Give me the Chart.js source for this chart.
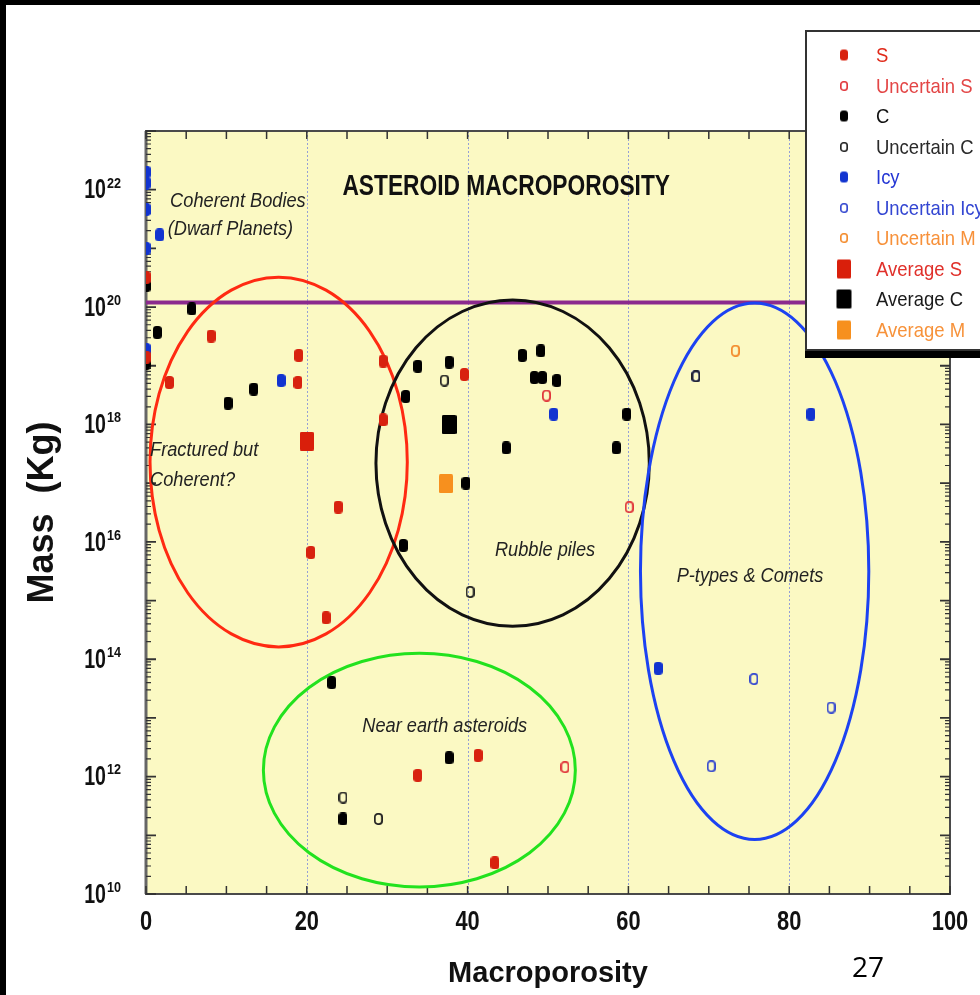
<!DOCTYPE html>
<html>
<head>
<meta charset="utf-8">
<script src="https://cdn.jsdelivr.net/npm/chart.js@4.4.1/dist/chart.umd.min.js"></script>
<style>
  body { margin: 0; background: #fff; width: 980px; height: 995px; overflow: hidden; position: relative; }
  #wrap { position: absolute; left: 0; top: 0; width: 980px; height: 995px; }
  .bar { position: absolute; background: #000; z-index: 5; }
  #legend {
    position: absolute; left: 805px; top: 30px; width: 200px; height: 321px;
    background: #fff; border: 2px solid #333; box-shadow: 0 7px 0 #000;
    z-index: 4; padding-top: 8px; box-sizing: border-box;
    font-family: 'Liberation Sans', Arial, sans-serif; font-size: 21px;
  }
  .row { height: 30.5px; position: relative; }
  .row span.mk { position: absolute; left: 37px; top: 50%; transform: translate(-50%, -50%); }
  .row span.tx { position: absolute; left: 69px; top: 50%; transform: translateY(-52%) scaleX(0.88); transform-origin: left center; white-space: nowrap; }
  #page { position: absolute; left: 852px; top: 947px; font: 28px 'Open Sans', sans-serif; color: #000; z-index: 4; }
</style>
</head>
<body>
<div id="wrap"><canvas id="massChart" width="980" height="995"></canvas></div>
<div class="bar" style="left:0;top:0;width:980px;height:5px"></div>
<div class="bar" style="left:0;top:0;width:6px;height:995px"></div>
<div id="legend"></div>
<div id="page">27</div>
<script>
// Asteroid mass vs macroporosity

// S type
var sX = [0, 0, 8.1, 19.0, 2.9, 18.9, 29.5, 29.5, 39.6, 23.9, 20.5, 22.4, 41.3, 33.8, 43.4];
var sY = [3.2e20, 1.4e19, 3.2e19, 1.5e19, 5.2e18, 5.2e18, 1.2e19, 1.2e18, 7.1e18, 3.9e16, 6.6e15, 5.1e14, 2.3e12, 1.05e12, 3.4e10];
// uncertain S
var usX = [49.8, 60.1, 52.1];
var usY = [3.1e18, 3.9e16, 1.45e12];
// C type
var cX = [0, 5.7, 1.4, 0, 13.4, 10.2, 33.8, 37.7, 32.3, 46.8, 49.1, 48.3, 49.3, 51.1, 59.8, 44.8, 58.5, 39.8, 32.0, 23.1, 37.7, 24.5];
var cY = [2.3e20, 9.3e19, 3.7e19, 1.1e19, 4e18, 2.3e18, 9.8e18, 1.15e19, 3e18, 1.5e19, 1.8e19, 6.3e18, 6.3e18, 5.6e18, 1.5e18, 4e17, 4e17, 1e17, 8.7e15, 4e13, 2.1e12, 1.9e11];
// uncertain C
var ucX = [37.1, 40.3, 24.5, 28.9, 68.4];
var ucY = [5.6e18, 1.4e15, 4.4e11, 1.9e11, 6.6e18];
// icy
var iX = [0, 0, 0, 1.7, 0, 0, 16.8, 50.7, 82.7, 63.7];
var iY = [2.0e22, 1.3e22, 4.6e21, 1.7e21, 1.0e21, 1.9e19, 5.6e18, 1.5e18, 1.5e18, 7e13];
// uncertain icy
var uiX = [68.4, 75.6, 85.2, 70.3];
var uiY = [6.6e18, 4.6e13, 1.5e13, 1.5e12];
// uncertain M
var umX = [73.3];
var umY = [1.8e19];
// averages
var avgSX = [20.0], avgSY = [5.2e17];
var avgCX = [37.7], avgCY = [1e18];
var avgMX = [37.3], avgMY = [9.8e16];

var seriesNames = ["S", "Uncertain S", "C", "Uncertain C", "Icy", "Uncertain Icy", "Uncertain M", "Average S", "Average C", "Average M"];
var xTickLabels = [0, 20, 40, 60, 80, 100];
var yExponents = [10, 11, 12, 13, 14, 15, 16, 17, 18, 19, 20, 21, 22, 23];
var yLabelExponents = [10, 12, 14, 16, 18, 20, 22];
var guideX = [20, 40, 60, 80];
var cutMass = 1.2e20; // purple line

// region ellipses: centre x, half width, centre log10(mass), half height in decades
var regionCx = [16.5, 45.6, 34.0, 75.7];
var regionRx = [16.0, 17.0, 19.4, 14.2];
var regionCy = [17.36, 17.34, 12.11, 15.5];
var regionRy = [3.15, 2.78, 1.99, 4.57];
var regionColors = ["#ff2a12", "#111111", "#22e21e", "#1c42f2"];

var FONT = "'Liberation Sans', Arial, sans-serif";

function marker(w, h, fill, stroke, lw, r) {
  var c = document.createElement("canvas");
  c.width = w; c.height = h;
  var g = c.getContext("2d");
  g.beginPath();
  var o = stroke ? lw / 2 : 0;
  g.roundRect(o, o, w - 2 * o, h - 2 * o, r);
  if (fill) { g.fillStyle = fill; g.fill(); }
  if (stroke) { g.strokeStyle = stroke; g.lineWidth = lw; g.stroke(); }
  return c;
}

var styles = [
  { color: "#d8220f", text: "#e02a1a", img: marker(9, 13, "#d8220f", null, 0, 3.5) },
  { color: "#e0353a", text: "#e34646", img: marker(9, 12, null, "#e0353a", 1.8, 3) },
  { color: "#000000", text: "#111111", img: marker(9, 13, "#000", null, 0, 3.5) },
  { color: "#222222", text: "#2a2a2a", img: marker(9, 12, null, "#222", 1.8, 3) },
  { color: "#1234d0", text: "#2436d4", img: marker(9, 13, "#1234d0", null, 0, 3.5) },
  { color: "#3347cf", text: "#3346d2", img: marker(9, 12, null, "#3347cf", 1.8, 3) },
  { color: "#f38a2a", text: "#f7913a", img: marker(9, 12, null, "#f38a2a", 1.8, 3) },
  { color: "#d91f0b", text: "#e0302a", img: marker(14, 19, "#d91f0b", null, 0, 1.5) },
  { color: "#000000", text: "#1a1a1a", img: marker(15, 19, "#000", null, 0, 1.5) },
  { color: "#f7901e", text: "#f7923a", img: marker(14, 19, "#f7901e", null, 0, 1.5) }
];

var xs = [sX, usX, cX, ucX, iX, uiX, umX, avgSX, avgCX, avgMX];
var ys = [sY, usY, cY, ucY, iY, uiY, umY, avgSY, avgCY, avgMY];

function pts(ax, ay) {
  return ax.map(function (v, i) { return { x: v, y: ay[i] }; });
}

// condensed text helper (the original uses a narrow Helvetica)
function narrowText(ctx, text, px, py, font, sx, align) {
  ctx.save();
  ctx.font = font;
  ctx.translate(px, py);
  ctx.scale(sx, 1);
  ctx.textAlign = align || "left";
  ctx.fillText(text, 0, 0);
  ctx.restore();
}

// background, guides, ellipses, frame and inward ticks
var backdrop = {
  id: "backdrop",
  beforeDatasetsDraw: function (chart) {
    var ctx = chart.ctx, a = chart.chartArea, x = chart.scales.x, y = chart.scales.y;
    ctx.save();
    ctx.fillStyle = "#fbf9c3";
    ctx.fillRect(a.left, a.top, a.right - a.left, a.bottom - a.top);

    ctx.strokeStyle = "#95a0d6";
    ctx.lineWidth = 1;
    ctx.setLineDash([2, 2]);
    guideX.forEach(function (v) {
      var px = Math.round(x.getPixelForValue(v)) + 0.5;
      ctx.beginPath(); ctx.moveTo(px, a.top); ctx.lineTo(px, a.bottom); ctx.stroke();
    });
    ctx.setLineDash([]);

    // frame
    ctx.strokeStyle = "#4a4a4a";
    ctx.lineWidth = 2;
    ctx.strokeRect(a.left, a.top, a.right - a.left, a.bottom - a.top);
    ctx.strokeStyle = "#666";
    ctx.lineWidth = 3;
    ctx.beginPath(); ctx.moveTo(a.left, a.top); ctx.lineTo(a.left, a.bottom); ctx.stroke();

    // x ticks top and bottom
    ctx.strokeStyle = "#333";
    ctx.lineWidth = 1.5;
    x.ticks.forEach(function (t) {
      var px = x.getPixelForValue(t.value);
      ctx.beginPath();
      ctx.moveTo(px, a.bottom); ctx.lineTo(px, a.bottom - 8);
      ctx.moveTo(px, a.top); ctx.lineTo(px, a.top + 8);
      ctx.stroke();
    });
    // y ticks left and right, majors and minors
    yExponents.forEach(function (e) {
      var py = y.getPixelForValue(Math.pow(10, e));
      ctx.lineWidth = 1.8;
      ctx.beginPath();
      ctx.moveTo(a.left, py); ctx.lineTo(a.left + 10, py);
      ctx.moveTo(a.right, py); ctx.lineTo(a.right - 10, py);
      ctx.stroke();
      if (e >= 23) return;
      ctx.lineWidth = 1.2;
      for (var m = 2; m <= 9; m++) {
        var pm = y.getPixelForValue(m * Math.pow(10, e));
        ctx.beginPath();
        ctx.moveTo(a.left, pm); ctx.lineTo(a.left + 5, pm);
        ctx.moveTo(a.right, pm); ctx.lineTo(a.right - 5, pm);
        ctx.stroke();
      }
    });

    // purple line
    var pyc = y.getPixelForValue(cutMass);
    ctx.strokeStyle = "#8b2a8e";
    ctx.lineWidth = 4;
    ctx.beginPath(); ctx.moveTo(a.left, pyc); ctx.lineTo(a.right, pyc); ctx.stroke();

    // ellipses
    regionCx.forEach(function (cxv, i) {
      var cx = x.getPixelForValue(cxv);
      var rx = x.getPixelForValue(cxv + regionRx[i]) - cx;
      var cy = y.getPixelForValue(Math.pow(10, regionCy[i]));
      var ry = cy - y.getPixelForValue(Math.pow(10, regionCy[i] + regionRy[i]));
      ctx.strokeStyle = regionColors[i];
      ctx.lineWidth = 3;
      ctx.beginPath(); ctx.ellipse(cx, cy, rx, ry, 0, 0, 2 * Math.PI); ctx.stroke();
    });
    ctx.restore();
  },
  afterDatasetsDraw: function (chart) {
    var ctx = chart.ctx, a = chart.chartArea, x = chart.scales.x, y = chart.scales.y;
    ctx.save();
    ctx.textBaseline = "middle";
    ctx.fillStyle = "#111";
    narrowText(ctx, "ASTEROID MACROPOROSITY", x.getPixelForValue(44.8), y.getPixelForValue(Math.pow(10, 22.05)),
      "bold 29px " + FONT, 0.785, "center");
    ctx.fillStyle = "#222";
    var notes = [
      ["Coherent Bodies", 3.0, 21.8],
      ["(Dwarf Planets)", 2.7, 21.33],
      ["Fractured but", 0.5, 17.55],
      ["Coherent?", 0.5, 17.05],
      ["Rubble piles", 43.4, 15.86],
      ["Near earth asteroids", 26.9, 12.86],
      ["P-types & Comets", 66.0, 15.41]
    ];
    notes.forEach(function (n) {
      narrowText(ctx, n[0], x.getPixelForValue(n[1]), y.getPixelForValue(Math.pow(10, n[2])),
        "italic 20px " + FONT, 0.91, "left");
    });

    // tick labels, condensed like the original
    ctx.fillStyle = "#111";
    x.ticks.forEach(function (t) {
      if (xTickLabels.indexOf(t.value) < 0) return;
      narrowText(ctx, String(t.value), x.getPixelForValue(t.value), a.bottom + 28, "bold 28px " + FONT, 0.78, "center");
    });
    yLabelExponents.forEach(function (e) {
      var py = y.getPixelForValue(Math.pow(10, e));
      narrowText(ctx, "10", 106, py + 1, "bold 28px " + FONT, 0.7, "right");
      ctx.save();
      ctx.textBaseline = "top";
      narrowText(ctx, String(e), 107, py - 13, "bold 14px " + FONT, 0.9, "left");
      ctx.restore();
    });
    ctx.restore();
  }
};

var chartCtx = document.getElementById("massChart").getContext("2d");
var massChart = new Chart(chartCtx, {
  type: "scatter",
  data: {
    datasets: seriesNames.map(function (name, i) {
      return {
        label: name,
        data: pts(xs[i], ys[i]),
        pointStyle: styles[i].img,
        backgroundColor: styles[i].color,
        borderColor: styles[i].color
      };
    })
  },
  options: {
    responsive: false,
    animation: false,
    events: [],
    layout: { padding: { left: 0, top: 131, right: 30, bottom: 0 } },
    plugins: { legend: { display: false }, tooltip: { enabled: false } },
    scales: {
      x: {
        type: "linear", min: 0, max: 100,
        grid: { display: false },
        border: { display: false },
        ticks: {
          stepSize: 5, autoSkip: false, maxRotation: 0,
          callback: function () { return ""; }
        },
        title: {
          display: true, text: "Macroporosity", color: "#111",
          font: { family: FONT, size: 29, weight: "bold" },
          padding: { top: 0, bottom: 4 }
        },
        afterFit: function (s) { s.height = 101; }
      },
      y: {
        type: "logarithmic", min: 1e10, max: 1e23,
        grid: { display: false },
        border: { display: false },
        afterBuildTicks: function (s) {
          s.ticks = yExponents.map(function (e) { return { value: Math.pow(10, e) }; });
        },
        ticks: {
          autoSkip: false,
          callback: function () { return ""; }
        },
        title: {
          display: true, text: "Mass  (Kg)", color: "#111",
          font: { family: FONT, size: 36, weight: "bold" },
          padding: { top: 21, bottom: 0 }
        },
        afterFit: function (s) { s.width = 146; }
      }
    }
  },
  plugins: [backdrop]
});

// legend box
var legend = document.getElementById("legend");
seriesNames.forEach(function (name, i) {
  var row = document.createElement("div");
  row.className = "row";
  var mk = document.createElement("span");
  mk.className = "mk";
  var img = styles[i].img;
  var c = document.createElement("canvas");
  var small = img.width < 12;
  c.width = small ? img.width - 1 : img.width;
  c.height = small ? img.height - 2 : img.height;
  c.getContext("2d").drawImage(img, 0, 0, c.width, c.height);
  c.style.display = "block";
  mk.appendChild(c);
  var tx = document.createElement("span");
  tx.className = "tx";
  tx.textContent = name;
  tx.style.color = styles[i].text;
  row.appendChild(mk);
  row.appendChild(tx);
  legend.appendChild(row);
});
</script>
</body>
</html>
